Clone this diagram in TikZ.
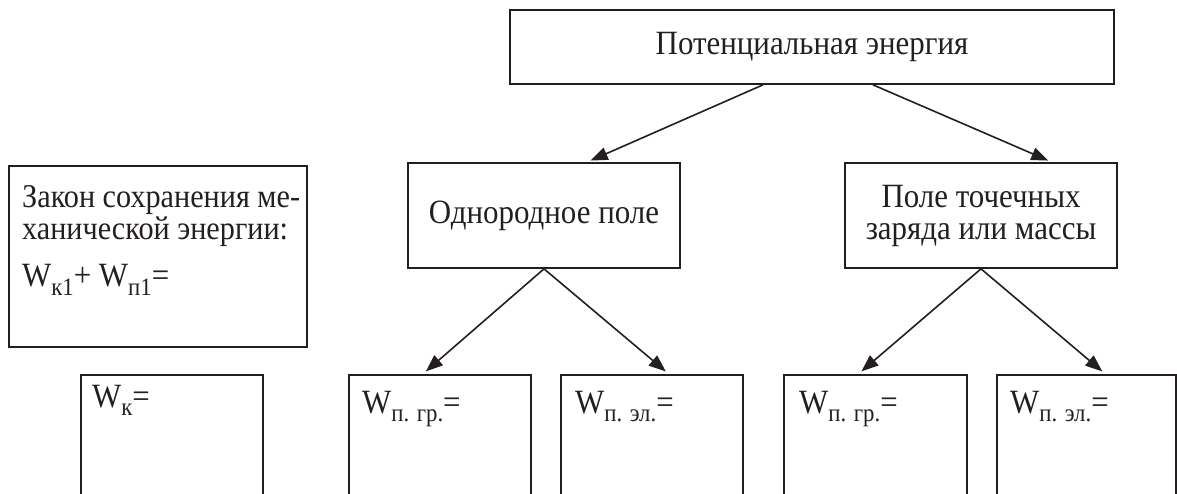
\documentclass[tikz,border=0pt]{standalone}
\usepackage{fontspec}
\setmainfont[FakeStretch=0.91]{Liberation Serif}
\usetikzlibrary{arrows.meta}
\definecolor{ink}{HTML}{231F20}
% lowered small index after a letter
\newcommand\lowsub[1]{\raisebox{-0.26em}{\fontsize{25}{25}\selectfont #1}}
\tikzset{
  box/.style={draw=ink, line width=1.7pt, inner sep=0pt},
  lbl/.style={text=ink, font=\fontsize{34}{32}\selectfont, inner sep=0pt},
  lawtxt/.style={text=ink, font=\fontsize{33.2}{32}\selectfont, inner sep=0pt},
  link/.style={draw=ink, line width=1.6pt, -{Triangle[length=17pt,width=13pt]}, shorten >=4pt},
}
\begin{document}
\begin{tikzpicture}[x=1pt,y=-1pt]
\useasboundingbox (0,0) rectangle (1177,494);
\clip (0,0) rectangle (1177,494);

% main hierarchy
\node[box, lbl, minimum width=604, minimum height=74] (top) at (812,47) {Потенциальная энергия};
\node[box, lbl, minimum width=272, minimum height=105] (uni) at (544,215.5) {Однородное поле};
\node[box, lbl, align=center, minimum width=272, minimum height=105] (pt) at (981,215.5) {Поле точечных\\заряда или массы};

% conservation law box
\node[box, minimum width=298, minimum height=181, anchor=north west] (law) at (8,165) {};
\node[lawtxt, anchor=base west] (law1) at (22,208) {Закон сохранения ме-};
\node[lawtxt, anchor=base west] (law2) at (22,240) {ханической энергии:};
\node[lbl, anchor=base west] (law3) at (22,287) {W\lowsub{к1}+ W\lowsub{п1}=};

% open answer boxes running off the bottom
\node[box, minimum width=182, minimum height=160, anchor=north west] (wk) at (80,374) {};
\node[box, minimum width=182, minimum height=160, anchor=north west] (b1) at (348,374) {};
\node[box, minimum width=182, minimum height=160, anchor=north west] (b2) at (560,374) {};
\node[box, minimum width=183, minimum height=160, anchor=north west] (b3) at (783,374) {};
\node[box, minimum width=179, minimum height=160, anchor=north west] (b4) at (996,374) {};

\node[lbl, anchor=base west] (twk) at (92,407) {W\lowsub{к}=};
\node[lbl, anchor=base west] (tb1) at (362,413) {W\lowsub{п. гр.}=};
\node[lbl, anchor=base west] (tb2) at (575,413) {W\lowsub{п. эл.}=};
\node[lbl, anchor=base west] (tb3) at (799,413) {W\lowsub{п. гр.}=};
\node[lbl, anchor=base west] (tb4) at (1010,413) {W\lowsub{п. эл.}=};

% connectors
\draw[link] ([xshift=-49pt]top.south) -- ([xshift=43pt]uni.north);
\draw[link] ([xshift=61pt]top.south) -- ([xshift=71pt]pt.north);
\draw[link] (uni.south) -- ([xshift=-17pt]b1.north);
\draw[link] (uni.south) -- ([xshift=17pt]b2.north);
\draw[link] (pt.south) -- ([xshift=-17pt]b3.north);
\draw[link] (pt.south) -- ([xshift=19pt]b4.north);
\end{tikzpicture}
\end{document}
